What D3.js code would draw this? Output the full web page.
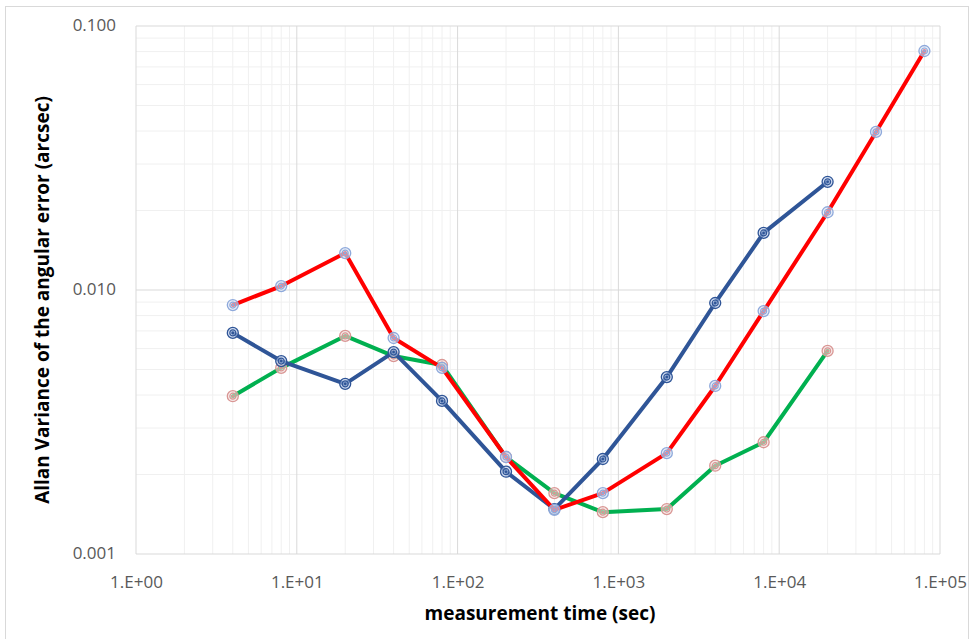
<!DOCTYPE html>
<html>
<head>
<meta charset="utf-8">
<script src="https://cdn.jsdelivr.net/npm/d3@7"></script>
<style>
  html, body { margin: 0; padding: 0; background: #fff; }
  svg { display: block; }
</style>
</head>
<body>
<svg id="chart" width="970" height="639"></svg>
<script>
// measurement time (sec)
const times = [4, 8, 20, 40, 80, 200, 400, 800, 2000, 4000, 8000, 20000, 40000, 80000];
// Allan variance series (arcsec)
const redSeries   = [0.00877, 0.01035, 0.0138, 0.00658, 0.00507, 0.00233, 0.00147, 0.00170, 0.00241, 0.00433, 0.00832, 0.0197, 0.0397, 0.0804];
const blueSeries  = [0.00688, 0.00538, 0.00441, 0.00582, 0.00380, 0.00205, 0.00148, 0.00229, 0.00468, 0.00893, 0.01645, 0.0257];
const greenSeries = [0.00396, 0.00507, 0.0067, 0.00562, 0.0052, 0.00233, 0.00170, 0.00144, 0.00148, 0.00216, 0.00265, 0.00588];
// tick labels
const xTicks = [1, 10, 100, 1000, 10000, 100000];
const xTickLabels = ["1.E+00", "1.E+01", "1.E+02", "1.E+03", "1.E+04", "1.E+05"];
const yTicks = [0.001, 0.01, 0.1];
const yTickLabels = ["0.001", "0.010", "0.100"];
const xTitle = "measurement time (sec)";
const yTitle = "Allan Variance of the angular error (arcsec)";

const svg = d3.select("#chart");
const L = 136, R = 940, T = 26, B = 554;

// outer frame
svg.append("rect").attr("x", 5.5).attr("y", 6.5).attr("width", 963).attr("height", 640)
  .attr("fill", "none").attr("stroke", "#d9d9d9").attr("stroke-width", 1);

const x = d3.scaleLog().domain([1, 100000]).range([L, R]);
const y = d3.scaleLog().domain([0.001, 0.1]).range([B, T]);

// minor gridlines
const minorX = [];
for (let d = 1; d < 100000; d *= 10) for (let k = 2; k <= 9; k++) minorX.push(d * k);
const minorY = [];
for (let d = 0.001; d < 0.1; d *= 10) for (let k = 2; k <= 9; k++) minorY.push(d * k);

const grid = svg.append("g");
grid.selectAll(".mx").data(minorX).join("line")
  .attr("x1", d => x(d)).attr("x2", d => x(d)).attr("y1", T).attr("y2", B)
  .attr("stroke", "#f0f0f0").attr("stroke-width", 1);
grid.selectAll(".my").data(minorY).join("line")
  .attr("y1", d => y(d)).attr("y2", d => y(d)).attr("x1", L).attr("x2", R)
  .attr("stroke", "#f0f0f0").attr("stroke-width", 1);
grid.selectAll(".Mx").data(xTicks).join("line")
  .attr("x1", d => x(d)).attr("x2", d => x(d)).attr("y1", T).attr("y2", B)
  .attr("stroke", "#d9d9d9").attr("stroke-width", 1);
grid.selectAll(".My").data(yTicks).join("line")
  .attr("y1", d => y(d)).attr("y2", d => y(d)).attr("x1", L).attr("x2", R)
  .attr("stroke", "#d9d9d9").attr("stroke-width", 1);

// axes (labels only)
const xAxis = d3.axisBottom(x).tickValues(xTicks).tickSize(0).tickPadding(0)
  .tickFormat((d, i) => xTickLabels[i]);
const gx = svg.append("g").attr("transform", `translate(0,${B})`).call(xAxis);
gx.select(".domain").remove();
gx.selectAll("text").attr("dy", null).attr("y", 29).attr("dominant-baseline", "middle")
  .attr("font-family", "'Open Sans', sans-serif").attr("font-size", 17).attr("fill", "#595959");

const yAxis = d3.axisLeft(y).tickValues(yTicks).tickSize(0).tickPadding(0)
  .tickFormat((d, i) => yTickLabels[i]);
const gy = svg.append("g").attr("transform", `translate(${L - 20},0)`).call(yAxis);
gy.select(".domain").remove();
gy.selectAll("text").attr("dy", null).attr("x", 0).attr("dominant-baseline", "middle")
  .attr("font-family", "'Open Sans', sans-serif").attr("font-size", 17).attr("fill", "#595959");

// titles
svg.append("text").attr("x", 540).attr("y", 615).attr("text-anchor", "middle")
  .attr("dominant-baseline", "middle")
  .attr("font-family", "'Open Sans', sans-serif").attr("font-weight", "bold").attr("font-size", 19)
  .attr("fill", "#000").text(xTitle);
svg.append("text").attr("transform", "translate(44,300) rotate(-90)").attr("text-anchor", "middle")
  .attr("dominant-baseline", "middle")
  .attr("font-family", "'Open Sans', sans-serif").attr("font-weight", "bold").attr("font-size", 19)
  .attr("fill", "#000").text(yTitle);

// series
const series = [
  { name: "green", values: greenSeries, line: "#00b050", ring: "#d99694", fill: "#f2dcdb" },
  { name: "blue",  values: blueSeries,  line: "#2f5597", ring: "#2f5597", fill: "#b4c7e7" },
  { name: "red",   values: redSeries,   line: "#ff0000", ring: "#8ea9db", fill: "#dae3f3" }
];

const lineGen = d3.line().x(d => x(d[0])).y(d => y(d[1]));

series.forEach(s => {
  const pts = s.values.map((v, i) => [times[i], v]);
  const g = svg.append("g");
  g.append("path").datum(pts).attr("d", lineGen)
    .attr("fill", "none").attr("stroke", s.line).attr("stroke-width", 4)
    .attr("stroke-linejoin", "round").attr("stroke-linecap", "round");
  const m = g.selectAll(".m").data(pts).join("g")
    .attr("transform", d => `translate(${x(d[0])},${y(d[1])})`);
  m.append("circle").attr("r", 5.5).attr("fill", s.fill).attr("fill-opacity", 0.6)
    .attr("stroke", s.ring).attr("stroke-width", 1.3);
  m.append("circle").attr("r", 3).attr("fill", "none").attr("stroke", s.ring).attr("stroke-width", 1.2);
  m.append("circle").attr("r", 1.3).attr("fill", s.ring);
});
</script>
</body>
</html>
